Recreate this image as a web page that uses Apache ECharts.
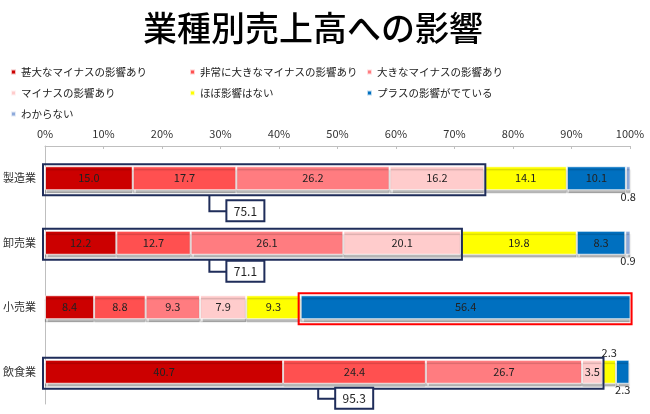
<!DOCTYPE html>
<html>
<head>
<meta charset="utf-8">
<script src="https://cdn.jsdelivr.net/npm/echarts@6/dist/echarts.min.js"></script>
<style>
  html, body { margin: 0; padding: 0; background: #fff; }
  #chart { width: 650px; height: 414px; }
</style>
</head>
<body>
<div id="chart"></div>
<script>
const categories = ['製造業', '卸売業', '小売業', '飲食業']
const seriesNames = [
  '甚大なマイナスの影響あり',
  '非常に大きなマイナスの影響あり',
  '大きなマイナスの影響あり',
  'マイナスの影響あり',
  'ほぼ影響はない',
  'プラスの影響がでている',
  'わからない',
]
const severe = [15.0, 12.2, 8.4, 40.7]
const veryLarge = [17.7, 12.7, 8.8, 24.4]
const large = [26.2, 26.1, 9.3, 26.7]
const minus = [16.2, 20.1, 7.9, 3.5]
const noEffect = [14.1, 19.8, 9.3, 2.3]
const plus = [10.1, 8.3, 56.4, 2.3]
const unknown = [0.8, 0.9, null, null]
const xTicks = [0, 10, 20, 30, 40, 50, 60, 70, 80, 90, 100]

const values = [severe, veryLarge, large, minus, noEffect, plus, unknown]
const colors = ['#cc0000', '#ff5050', '#ff7c80', '#ffcccc', '#ffff00', '#0070c0', '#8eaadb']
const font = '"Noto Sans CJK JP", sans-serif'

// 小さい値のラベル位置 (系列index-カテゴリindex)
const outsideLabel = { '6-0': 'bottom', '6-1': 'bottom', '4-3': 'top', '5-3': 'bottom' }

const series = values.map((arr, si) => ({
  name: seriesNames[si],
  type: 'bar',
  stack: 'total',
  barWidth: 24,
  itemStyle: {
    color: colors[si],
    borderColor: 'rgba(255,255,255,0.75)',
    borderWidth: 1,
    shadowColor: 'rgba(0,0,0,0.28)',
    shadowOffsetY: 3,
    shadowBlur: 1,
  },
  label: {
    show: true,
    position: 'inside',
    color: '#222',
    fontSize: 11,
    fontFamily: font,
    formatter: (p) => (p.value == null ? '' : p.value.toFixed(1)),
  },
  data: arr.map((v, ci) => {
    const pos = outsideLabel[si + '-' + ci]
    return pos ? { value: v, label: { position: pos, distance: 1 } } : v
  }),
}))

// 枠囲み（マイナス合計）と小売業のプラス枠
const sumUpTo = (ci, n) => values.slice(0, n).reduce((s, a) => s + (a[ci] || 0), 0)
const calloutAt = [28.1, 28.1, null, 46.7] // 吹き出しの引き出し位置(%)
const calloutDrop = [33, 29, null, 27] // 棒の中心から吹き出しまでの距離(px)
const boxes = [
  [0, 0, sumUpTo(0, 4), 0],
  [1, 0, sumUpTo(1, 4), 0],
  [2, sumUpTo(2, 5), sumUpTo(2, 6), 1],
  [3, 0, sumUpTo(3, 4), 0],
]

series.push({
  type: 'custom',
  z: 10,
  silent: true,
  encode: { x: [1, 2], y: 0 },
  data: boxes,
  renderItem: (params, api) => {
    const ci = api.value(0)
    const p0 = api.coord([api.value(1), ci])
    const p1 = api.coord([api.value(2), ci])
    const red = api.value(3) === 1
    const cy = p0[1]
    const children = [{
      type: 'rect',
      shape: { x: p0[0] - 2, y: cy - 14, width: p1[0] - p0[0] + 3, height: 31 },
      style: { fill: 'none', stroke: red ? '#ff0000' : '#1f2d5a', lineWidth: 2 },
    }]
    if (!red && calloutAt[ci] != null) {
      const ax = api.coord([calloutAt[ci], ci])[0]
      const ly = cy + calloutDrop[ci]
      children.push({
        type: 'polyline',
        shape: { points: [[ax, cy + 17], [ax, ly], [ax + 17, ly]] },
        style: { fill: 'none', stroke: '#1f2d5a', lineWidth: 2 },
      })
      children.push({
        type: 'rect',
        shape: { x: ax + 17, y: ly - 11, width: 38, height: 21 },
        style: { fill: '#fff', stroke: '#1f2d5a', lineWidth: 2 },
      })
      children.push({
        type: 'text',
        style: {
          text: (api.value(2)).toFixed(1),
          x: ax + 36, y: ly,
          align: 'center', verticalAlign: 'middle',
          textAlign: 'center', textVerticalAlign: 'middle',
          fontSize: 12, fontFamily: font, fill: '#222',
        },
      })
    }
    return { type: 'group', children }
  },
})

const legendBase = {
  orient: 'vertical',
  top: 65,
  padding: 0,
  icon: 'rect',
  itemWidth: 5,
  itemHeight: 5,
  itemGap: 7,
  textStyle: { fontSize: 10.5, color: '#222', fontFamily: font, lineHeight: 14 },
}

const option = {
  animation: false,
  color: colors,
  title: {
    text: '業種別売上高への影響',
    left: 138,
    top: 6,
    textStyle: { fontSize: 34, fontWeight: 500, color: '#000', fontFamily: font },
  },
  legend: [
    { ...legendBase, left: 10, data: [seriesNames[0], seriesNames[3], seriesNames[6]] },
    { ...legendBase, left: 189, data: [seriesNames[1], seriesNames[4]] },
    { ...legendBase, left: 366, data: [seriesNames[2], seriesNames[5]] },
  ],
  grid: { left: 43, right: 20, top: 146, bottom: 10 },
  xAxis: {
    type: 'value',
    position: 'top',
    min: xTicks[0],
    max: xTicks[xTicks.length - 1],
    interval: xTicks[1] - xTicks[0],
    axisLine: { show: true, lineStyle: { color: '#bfbfbf' } },
    axisTick: { show: true, inside: true, length: 3, lineStyle: { color: '#bfbfbf' } },
    axisLabel: { formatter: '{value}%', color: '#333', fontSize: 11, fontFamily: font, margin: 7 },
    splitLine: { show: false },
  },
  yAxis: {
    type: 'category',
    inverse: true,
    data: categories,
    axisLine: { lineStyle: { color: '#bfbfbf' } },
    axisTick: { show: false },
    axisLabel: { color: '#333', fontSize: 11, fontFamily: font, margin: 9 },
  },
  series,
}

const chart = echarts.init(document.getElementById('chart'))
chart.setOption(option)
</script>
</body>
</html>
